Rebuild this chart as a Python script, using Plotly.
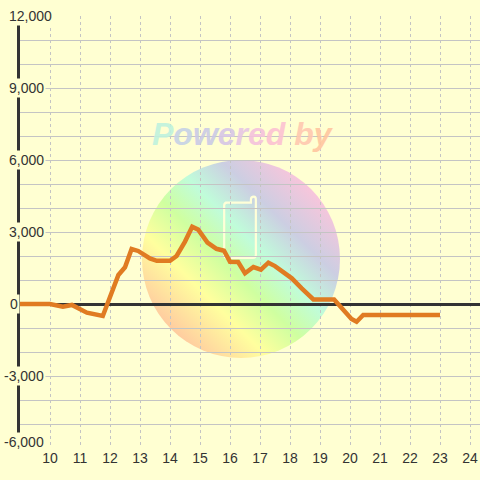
import base64
import plotly.graph_objects as go

# ---- data ----
hours = [9.0, 10.0, 10.43, 10.73, 11.23, 11.76, 12.28, 12.5, 12.72, 12.94, 13.33, 13.56,
         14.0, 14.22, 14.5, 14.74, 14.94, 15.25, 15.55, 15.8, 16.0, 16.27, 16.5, 16.78,
         17.03, 17.28, 17.5, 17.82, 18.06, 18.39, 18.78, 19.47, 19.8, 20.05, 20.22, 20.44, 23.0]
values = [0, 0, -110, -40, -360, -500, 1210, 1530, 2290, 2210, 1900, 1800,
          1800, 2000, 2600, 3220, 3100, 2560, 2300, 2220, 1760, 1750, 1280, 1540,
          1430, 1720, 1580, 1260, 1070, 650, 190, 190, -300, -620, -740, -460, -460]
x_ticks = list(range(10, 25))
y_label_vals = [12000, 9000, 6000, 3000, 0, -3000, -6000]
y_grid_vals = list(range(-6000, 12001, 1000))

BG = "#FFFFD2"
TXT = "#333333"
FONT = "Liberation Sans, Arial, sans-serif"

fig = go.Figure()
fig.add_trace(go.Scatter(x=hours, y=values, mode="lines",
                         line=dict(color="#E07B22", width=4.5),
                         hoverinfo="skip", showlegend=False))

# watermark circle (decorative gradient image)
svg = """<svg xmlns='http://www.w3.org/2000/svg' width='200' height='200' viewBox='0 0 200 200'>
<defs><linearGradient id='g' x1='0' y1='1' x2='1' y2='0'>
<stop offset='0.12' stop-color='#FFC4A0'/>
<stop offset='0.32' stop-color='#FFFF9E'/>
<stop offset='0.45' stop-color='#CFFFA0'/>
<stop offset='0.57' stop-color='#C0FCDA'/>
<stop offset='0.70' stop-color='#CCCEE2'/>
<stop offset='0.88' stop-color='#FFC4DA'/>
</linearGradient></defs>
<circle cx='100' cy='100' r='100' fill='url(#g)'/>
<path d='M84 43 L110 43 L110 40 Q110 37 113 37 Q115 37 115 40 L115 96 Q115 99 112 99 L86 99 Q83 99 83 96 L83 46 Q83 43 86 43 Z'
 fill='none' stroke='#FFFFD8' stroke-width='2.2'/>
</svg>"""
uri = "data:image/svg+xml;base64," + base64.b64encode(svg.encode()).decode()

L, R, T, B = 20, 480, 16, 448
PW, PH = R - L, B - T

def px_x(px):
    return (px - L) / PW

def px_y(py):
    return (B - py) / PH

fig.add_layout_image(dict(source=uri, xref="paper", yref="paper",
                          x=px_x(142), y=px_y(160), sizex=198 / PW, sizey=198 / PH,
                          xanchor="left", yanchor="top", sizing="stretch",
                          layer="below", opacity=1))

letters = "Powered by"
cols = ["#BFF2DE", "#C6D2E6", "#CACAE6", "#D6C6E6", "#E6C6E4", "#F4C2DC",
        "#FCC2D2", "#FFFFD2", "#FFC8B0", "#FFC6A0"]
txt = "".join(f"<span style='color:{c}'>{ch}</span>" for ch, c in zip(letters, cols))
fig.add_annotation(text=txt, xref="paper", yref="paper", x=px_x(243), y=px_y(134),
                   showarrow=False, xanchor="center", yanchor="middle", opacity=0.9,
                   font=dict(family=FONT, size=32, weight="bold", style="italic"))

# y tick labels with background boxes
for v in y_label_vals:
    lab = f"{v:,}"
    fig.add_annotation(text=lab, xref="paper", yref="y", x=0, y=v,
                       xanchor="left", yanchor="middle", showarrow=False,
                       xshift=(7 - L) - (5 if v < 0 else 0) + (1 if v == 0 else 0),
                       yshift=6 if v == -6000 else 0,
                       bgcolor=BG, borderpad=1,
                       font=dict(family=FONT, size=14, color=TXT))

fig.update_xaxes(range=[9, 24.3333], tickvals=x_ticks, ticks="", showline=False,
                 automargin=False,
                 showgrid=True, gridcolor="#C4C4C4", gridwidth=1, griddash="3px,3px",
                 zeroline=False, tickfont=dict(family=FONT, size=14, color=TXT))
fig.update_yaxes(range=[-6000, 12000], tickvals=y_grid_vals, showticklabels=False, ticks="",
                 automargin=False,
                 showgrid=True, gridcolor="#C4C4C4", gridwidth=1,
                 zeroline=True, zerolinecolor=TXT, zerolinewidth=3,
                 showline=True, linecolor=TXT, linewidth=3)

fig.update_layout(width=480, height=480, margin=dict(l=L, r=480 - R, t=T, b=480 - B),
                  paper_bgcolor=BG, plot_bgcolor=BG, showlegend=False)

fig.write_html("out.html", config={"displayModeBar": False},
               post_script="document.body.style.margin='0';document.body.style.padding='0';")
